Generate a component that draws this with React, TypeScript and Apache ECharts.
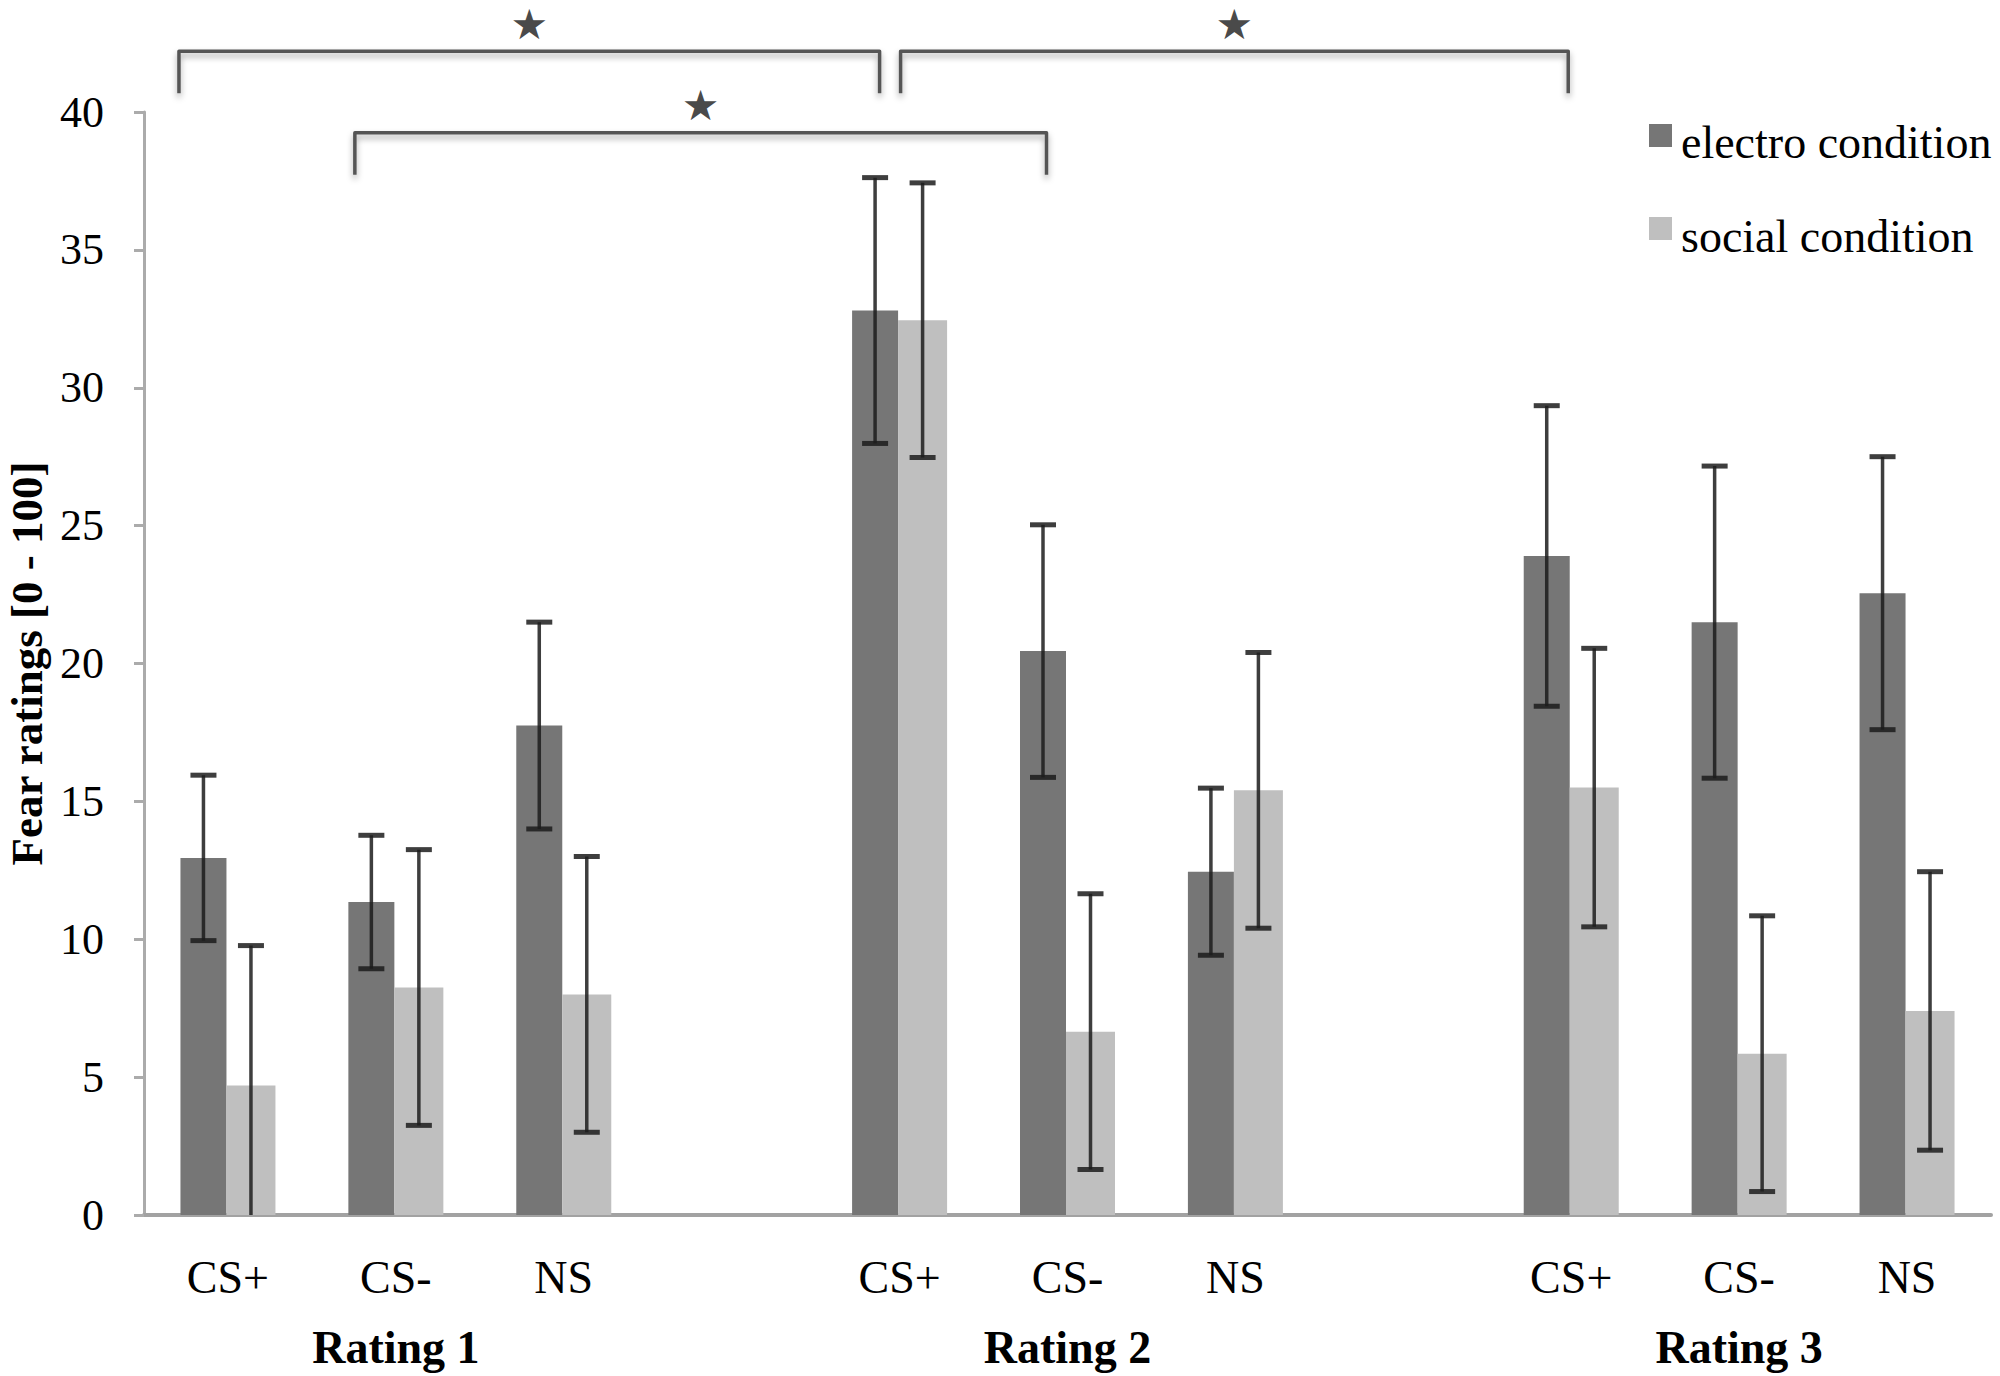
import React, { useEffect, useRef } from "react";
import * as echarts from "echarts";

// ---- data ----
const GROUPS = ["Rating 1", "Rating 2", "Rating 3"];
const STIMULI = ["CS+", "CS-", "NS"];
const SERIES_NAMES = ["electro condition", "social condition"];

// means per group, in order CS+, CS-, NS
const ELECTRO_MEAN = [12.95, 11.35, 17.75, 32.8, 20.45, 12.45, 23.9, 21.5, 22.55];
const ELECTRO_ERR = [3.0, 2.42, 3.75, 4.82, 4.58, 3.03, 5.45, 5.66, 4.95];
const SOCIAL_MEAN = [4.7, 8.25, 8.0, 32.45, 6.65, 15.4, 15.5, 5.85, 7.4];
const SOCIAL_ERR = [5.07, 5.0, 5.0, 4.98, 5.0, 5.0, 5.05, 5.0, 5.05];

const Y_MIN = 0;
const Y_MAX = 40;
const Y_INTERVAL = 5;

// significance brackets: from category slot -> to category slot, at y level
const BRACKET_FROM = [0, 4, 1];
const BRACKET_TO = [4, 8, 5];
const BRACKET_LEVEL = [42.2, 42.2, 39.25];

// ---- style / layout constants ----
const FONT = "Liberation Serif";
const ELECTRO_COLOR = "#767676";
const SOCIAL_COLOR = "#bfbfbf";
const ELECTRO_W = 46;
const SOCIAL_W = 49;
const ELECTRO_OFF = -(ELECTRO_W + SOCIAL_W) / 2 + ELECTRO_W / 2;
const SOCIAL_OFF = -(ELECTRO_W + SOCIAL_W) / 2 + ELECTRO_W + SOCIAL_W / 2;
const BRACKET_FROM_OFF = [-49, 1, -41];
const BRACKET_TO_OFF = [-20, -3, -21];
const BRACKET_LEG = 42;
const STAR_GAP = 27;

// build category slots: 3 stimuli per group, an empty slot between groups
const categories: string[] = [];
const slotGroup: number[] = [];
const slotStim: number[] = [];
GROUPS.forEach((g, gi) => {
  STIMULI.forEach((s, si) => {
    categories.push(s);
    slotGroup.push(gi);
    slotStim.push(si);
  });
  if (gi < GROUPS.length - 1) {
    categories.push("");
    slotGroup.push(-1);
    slotStim.push(-1);
  }
});

function slotOf(k: number) {
  const g = Math.floor(k / STIMULI.length);
  const s = k % STIMULI.length;
  return g * (STIMULI.length + 1) + s;
}

function barData(means: number[]) {
  const arr: (number | string)[] = categories.map(() => "-");
  means.forEach((v, k) => {
    arr[slotOf(k)] = v;
  });
  return arr;
}

function errData(means: number[], errs: number[]) {
  return means.map((v, k) => [slotOf(k), v, errs[k]]);
}

const ERR_STROKE = "rgba(28,28,28,0.85)";

function errorRender(offset: number) {
  return (params: any, api: any) => {
    const idx = api.value(0);
    const m = api.value(1);
    const e = api.value(2);
    const x = api.coord([idx, 0])[0] + offset;
    const top = api.coord([idx, m + e])[1];
    const low = m - e;
    const bot = api.coord([idx, Math.max(0, low)])[1];
    const children: any[] = [
      { type: "line", shape: { x1: x, y1: top, x2: x, y2: bot }, style: { stroke: ERR_STROKE, lineWidth: 3.5 } },
      { type: "line", shape: { x1: x - 13, y1: top, x2: x + 13, y2: top }, style: { stroke: ERR_STROKE, lineWidth: 5 } },
    ];
    if (low >= 0) {
      children.push({
        type: "line",
        shape: { x1: x - 13, y1: bot, x2: x + 13, y2: bot },
        style: { stroke: ERR_STROKE, lineWidth: 5 },
      });
    }
    return { type: "group", children };
  };
}

function bracketRender(params: any, api: any) {
  const i = params.dataIndex;
  const from = api.value(0);
  const to = api.value(1);
  const level = api.value(2);
  const p1 = api.coord([from, level]);
  const p2 = api.coord([to, level]);
  const x1 = p1[0] + BRACKET_FROM_OFF[i];
  const x2 = p2[0] + BRACKET_TO_OFF[i];
  const y = p1[1];
  const shadow = { shadowBlur: 6, shadowColor: "rgba(0,0,0,0.35)", shadowOffsetY: 4 };
  return {
    type: "group",
    children: [
      {
        type: "polyline",
        shape: { points: [[x1, y + BRACKET_LEG], [x1, y], [x2, y], [x2, y + BRACKET_LEG]] },
        style: { stroke: "#555555", lineWidth: 3.5, fill: "none", lineJoin: "round", ...shadow },
      },
      {
        type: "text",
        x: (x1 + x2) / 2,
        y: y - STAR_GAP,
        style: {
          text: "★",
          fontSize: 42,
          fontFamily: "DejaVu Sans",
          fill: "#4a4a4a",
          align: "center",
          verticalAlign: "middle",
          ...shadow,
        },
      },
    ],
  };
}

export default function App() {
  const ref = useRef<HTMLDivElement>(null);

  useEffect(() => {
    document.body.style.margin = "0";
    if (!ref.current) return;
    const chart = echarts.init(ref.current, null, { renderer: "svg" });
    const option: any = {
      animation: false,
      backgroundColor: "#ffffff",
      textStyle: { fontFamily: FONT, color: "#000" },
      grid: { left: 144, right: 9, top: 112, bottom: 161, containLabel: false, outerBoundsMode: "none" },
      xAxis: {
        type: "category",
        data: categories,
        axisLine: { show: true, lineStyle: { color: "#a2a2a2", width: 4 } },
        axisTick: { show: false },
        axisLabel: {
          interval: 0,
          margin: 27,
          verticalAlign: "top",
          formatter: (value: string, index: number) => {
            if (!value) return "";
            if (slotStim[index] === 1) {
              return `{a|${value}}\n{b|${GROUPS[slotGroup[index]]}}`;
            }
            return `{a|${value}}`;
          },
          rich: {
            a: { fontFamily: FONT, fontSize: 46, lineHeight: 70, color: "#000" },
            b: { fontFamily: FONT, fontSize: 46, fontWeight: "bold", lineHeight: 70, color: "#000" },
          },
        },
        splitLine: { show: false },
      },
      yAxis: {
        type: "value",
        min: Y_MIN,
        max: Y_MAX,
        interval: Y_INTERVAL,
        name: "Fear ratings [0 - 100]",
        nameLocation: "middle",
        nameRotate: 90,
        nameGap: 94,
        nameTextStyle: { fontFamily: FONT, fontSize: 45, fontWeight: "bold", color: "#000" },
        axisLine: { show: true, lineStyle: { color: "#ababab", width: 3 } },
        axisTick: { show: true, length: 10, lineStyle: { color: "#ababab", width: 3 } },
        axisLabel: { margin: 40, fontFamily: FONT, fontSize: 44, color: "#000" },
        splitLine: { show: false },
      },
      series: [
        {
          name: SERIES_NAMES[0],
          type: "bar",
          data: barData(ELECTRO_MEAN),
          barWidth: ELECTRO_W,
          barGap: "0%",
          itemStyle: { color: ELECTRO_COLOR },
        },
        {
          name: SERIES_NAMES[1],
          type: "bar",
          data: barData(SOCIAL_MEAN),
          barWidth: SOCIAL_W,
          barGap: "0%",
          itemStyle: { color: SOCIAL_COLOR },
        },
        {
          name: "electro error",
          type: "custom",
          data: errData(ELECTRO_MEAN, ELECTRO_ERR),
          encode: { x: 0, y: 1 },
          renderItem: errorRender(ELECTRO_OFF),
          silent: true,
          z: 5,
        },
        {
          name: "social error",
          type: "custom",
          data: errData(SOCIAL_MEAN, SOCIAL_ERR),
          encode: { x: 0, y: 1 },
          renderItem: errorRender(SOCIAL_OFF),
          silent: true,
          z: 5,
        },
        {
          name: "brackets",
          type: "custom",
          data: BRACKET_FROM.map((f, i) => [f, BRACKET_TO[i], BRACKET_LEVEL[i]]),
          encode: { x: 0, y: 2 },
          renderItem: bracketRender,
          clip: false,
          silent: true,
          z: 6,
        },
      ],
      graphic: [
        { type: "rect", shape: { x: 1649, y: 124, width: 23, height: 23 }, style: { fill: ELECTRO_COLOR } },
        {
          type: "text",
          x: 1681,
          y: 142,
          style: { text: SERIES_NAMES[0], fontFamily: FONT, fontSize: 46, fill: "#000", verticalAlign: "middle" },
        },
        { type: "rect", shape: { x: 1649, y: 217, width: 23, height: 23 }, style: { fill: SOCIAL_COLOR } },
        {
          type: "text",
          x: 1681,
          y: 236,
          style: { text: SERIES_NAMES[1], fontFamily: FONT, fontSize: 46, fill: "#000", verticalAlign: "middle" },
        },
      ],
    };
    chart.setOption(option);
    return () => chart.dispose();
  }, []);

  return <div ref={ref} style={{ width: 2000, height: 1376 }} />;
}
